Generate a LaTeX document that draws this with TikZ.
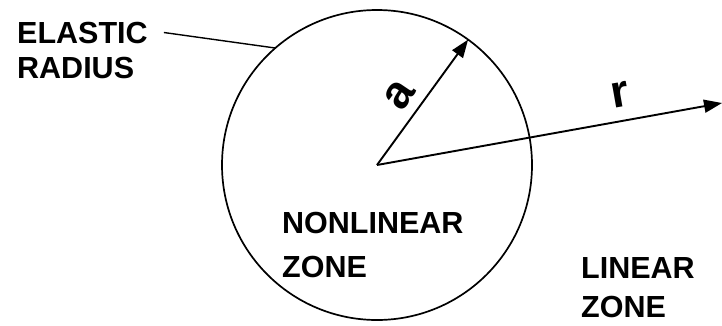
\documentclass[tikz,border=0pt]{standalone}
\usepackage{fontspec}
\setmainfont{Liberation Sans}
\usetikzlibrary{arrows.meta, positioning}

\tikzset{
  zonelabel/.style={anchor=base west, inner sep=0pt, font=\fontsize{30.5}{36}\selectfont\bfseries},
  varlabel/.style={inner sep=0pt, font=\fontsize{46}{52}\selectfont\bfseries},
  radial/.style={line width=1.9pt, -{Triangle[length=18pt, width=13pt]}}
}

\begin{document}
\begin{tikzpicture}[x=1pt, y=-1pt]
    \useasboundingbox (0,0) rectangle (722,325);

    % elastic boundary
    \node [circle, draw, line width=1.7pt, minimum size=310pt, inner sep=0pt, outer sep=0pt] (zone) at (377,165) {};
    \coordinate (c) at (377,165);

    % labels
    \node [zonelabel] (el) at (17,43) {ELASTIC};
    \node [zonelabel] (rad) at (17,78) {RADIUS};
    \node [zonelabel] (nl) at (282,233) {NONLINEAR};
    \node [zonelabel] (nlz) at (282,277) {ZONE};
    \node [zonelabel] (lin) at (581,278) {LINEAR};
    \node [zonelabel] (linz) at (581,317) {ZONE};

    % radii
    \coordinate (rtip) at (722,103);
    \draw [radial] (c) -- (zone.54.4);
    \draw [radial] (c) -- (rtip);
    \node [varlabel, rotate=56] (a) at (400,95) {a};
    \node [varlabel, rotate=10] (r) at (620,95) {r};

    % leader
    \draw [line width=1.4pt] ([xshift=16pt]el.east) -- (zone.131);
\end{tikzpicture}
\end{document}
